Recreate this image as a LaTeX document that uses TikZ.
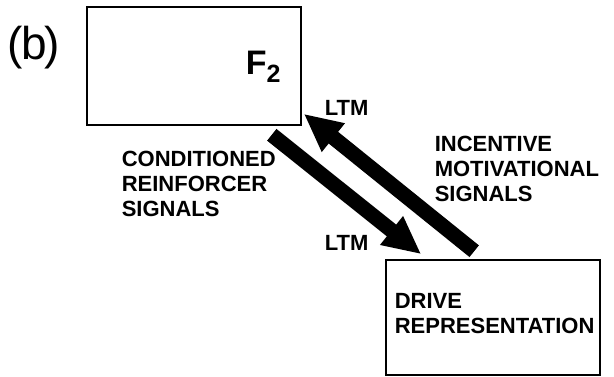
\documentclass[tikz,border=0pt]{standalone}
\usepackage{fontspec}
\setmainfont{Liberation Sans}
\usetikzlibrary{arrows.meta, calc}
\tikzset{
  every picture/.style={line width=1.6pt},
  box/.style={draw, minimum width=214pt, inner sep=0pt},
  sig/.style={anchor=north west, inner sep=0pt, align=left, font=\fontsize{22}{25}\selectfont\bfseries},
  bigarrow/.style={line width=15pt, -{Triangle[length=38pt, width=34pt]}},
}
\begin{document}
\begin{tikzpicture}[x=1pt,y=-1pt]
  \useasboundingbox (0,0) rectangle (614,377);
  % panel letter
  \node[anchor=base west, inner sep=0pt, font=\fontsize{46}{46}\selectfont] (panel) at (7,60) {(\kern-2pt b\kern-2pt)};
  % boxes
  \node[box, minimum height=118pt] (f2) at (194,66) {};
  \node[box, minimum height=115pt] (drive) at (493,317.5) {};
  \node[anchor=base west, inner sep=0pt, font=\fontsize{34}{34}\selectfont\bfseries] (f2lab) at (245,75) {F\raisebox{-8pt}{\fontsize{25}{25}\selectfont 2}};
  \node[sig] (drivelab) at (394,293) {DRIVE\\REPRESENTATION};
  % signal arrows
  \coordinate (crtail) at ($(f2.south east)+(-30,9)$);
  \coordinate (crtip) at ($(drive.north west)+(36,-5)$);
  \coordinate (imtail) at ($(drive.north west)+(89,-8)$);
  \coordinate (imtip) at ($(f2.south east)+(2,-12)$);
  \draw[bigarrow] (crtail) -- (crtip);
  \draw[bigarrow] (imtail) -- (imtip);
  % labels
  \node[sig] (ltmup) at (324,100) {LTM};
  \node[sig] (ltmdown) at (324,235) {LTM};
  \node[sig] (crlab) at (121,150) {CONDITIONED\\REINFORCER\\SIGNALS};
  \node[sig] (imlab) at (434,135) {INCENTIVE\\MOTIVATIONAL\\SIGNALS};
\end{tikzpicture}
\end{document}
